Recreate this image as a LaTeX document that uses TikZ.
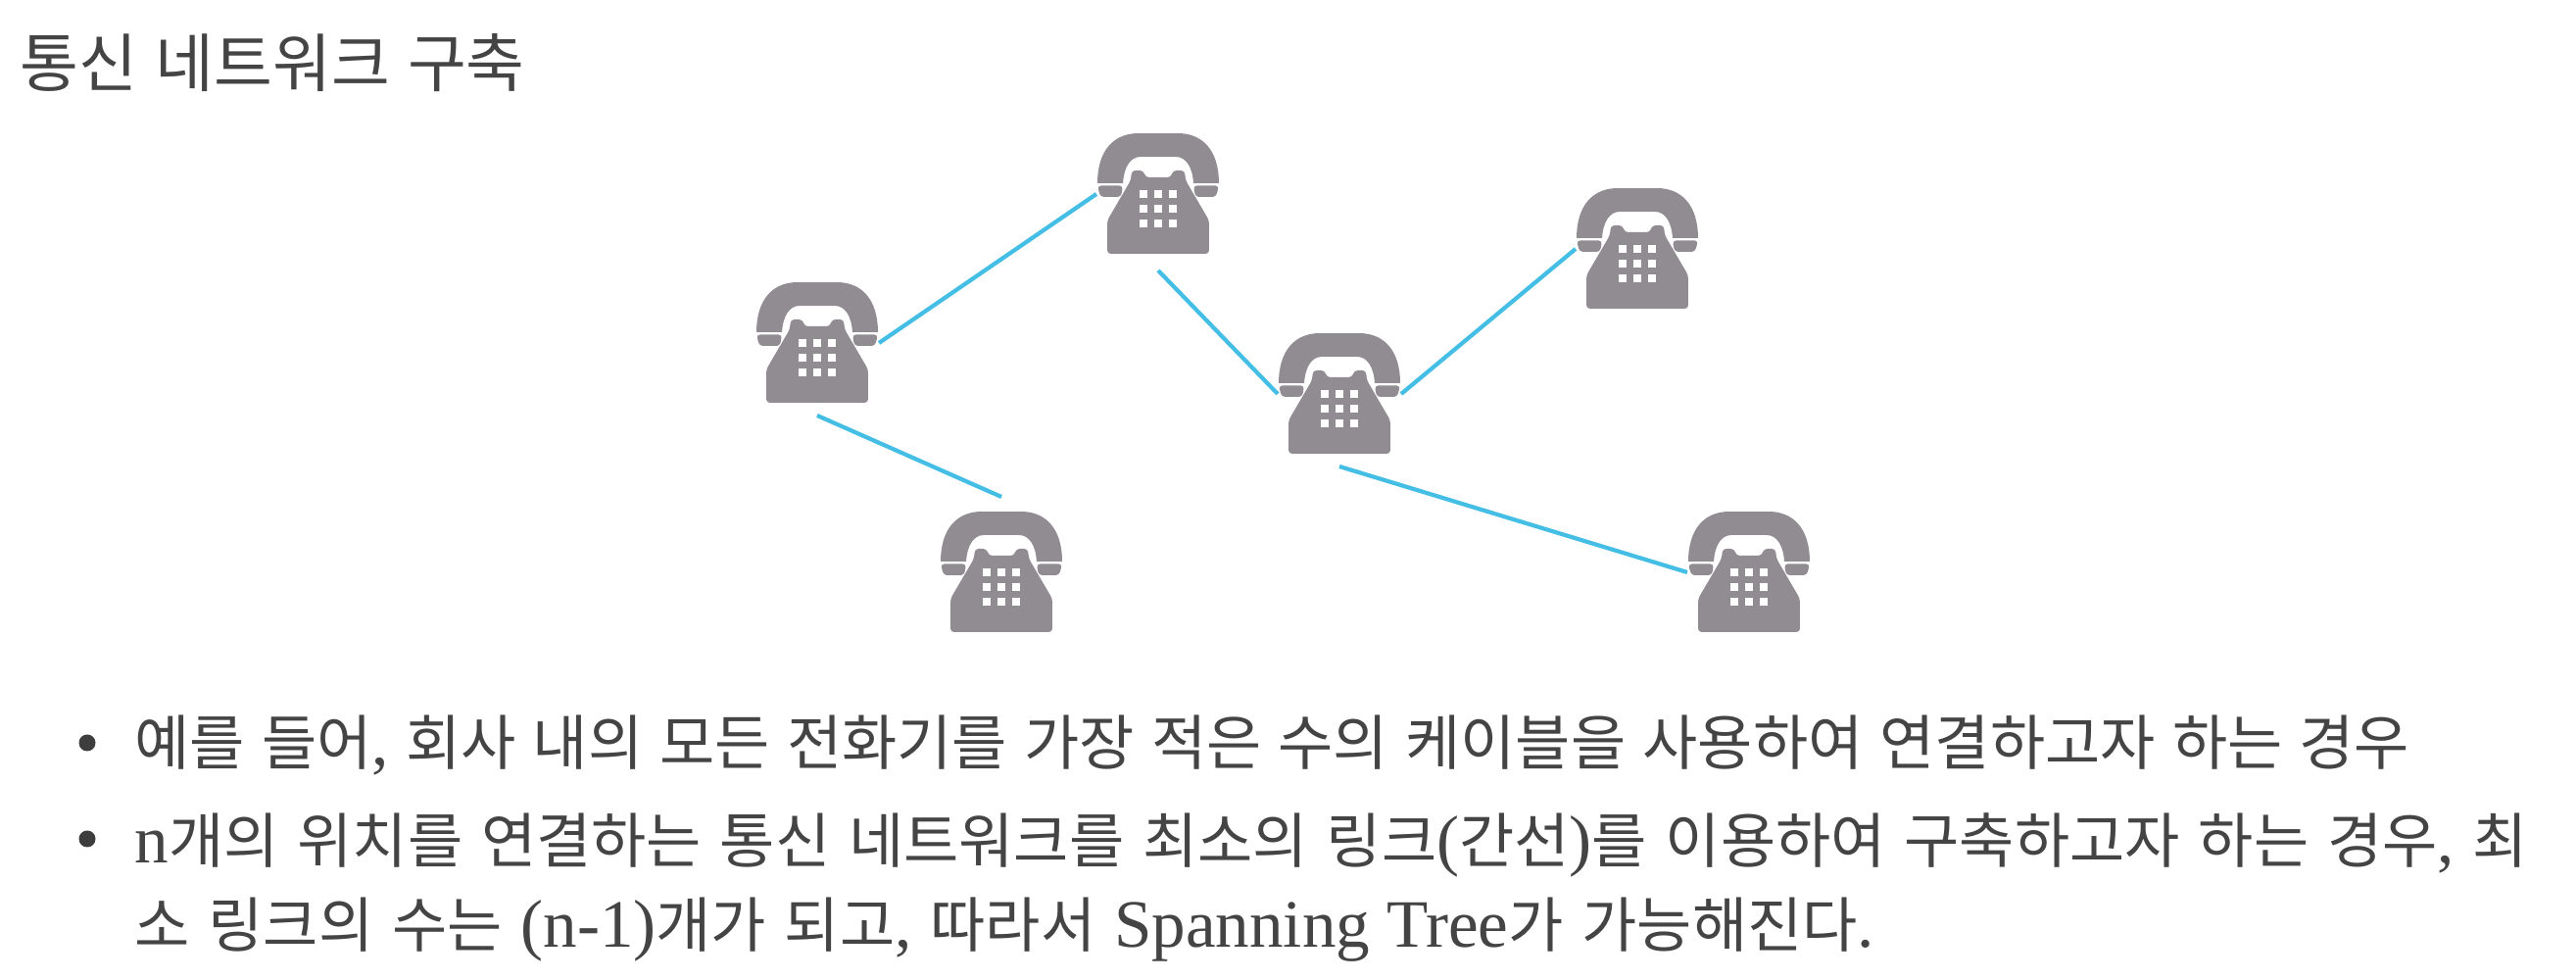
\documentclass[tikz,border=0pt]{standalone}
\usepackage{fontspec}
\setmainfont[WordSpace=1.25]{Noto Sans CJK KR}
\newfontfamily\widekorean[WordSpace=1.37]{Noto Sans CJK KR}
\newfontfamily\latinserif[Scale=1.13]{Liberation Serif}
\usetikzlibrary{positioning}
\definecolor{phonegray}{HTML}{918C91}
\definecolor{linkblue}{HTML}{45BEE6}
\definecolor{textgray}{HTML}{444444}
\newcommand{\phoneicon}{%
  \begin{scope}[shift={(path picture bounding box.center)},x=0.01cm,y=0.01cm]
    \fill[phonegray] (-62,11) .. controls (-62,45) and (-45,62) .. (-20,62) -- (20,62)
      .. controls (45,62) and (62,45) .. (62,11) -- (36,11)
      .. controls (35,28) and (28,38) .. (18,38) -- (-18,38)
      .. controls (-28,38) and (-35,28) .. (-36,11) -- cycle;
    \fill[phonegray,rounded corners=1] (-62,8.5) -- (-36,8.5) -- (-38,-3) -- (-59,-3) -- cycle;
    \fill[phonegray,rounded corners=1] (62,8.5) -- (36,8.5) -- (38,-3) -- (59,-3) -- cycle;
    \fill[phonegray,rounded corners=1] (-27,24) -- (-15,24) -- (-13,17) -- (13,17) -- (15,24)
      -- (27,24) -- (28,14) -- (52,-27) -- (52,-61) -- (-52,-61) -- (-52,-27) -- (-28,14) -- cycle;
    \foreach \keyx in {-15,0,15}
      \foreach \keyy in {0,-15,-30}
        \fill[white] (\keyx-4,\keyy-4) rectangle (\keyx+4,\keyy+4);
  \end{scope}}
\tikzset{
  phone/.style={minimum width=1.26cm,minimum height=1.26cm,inner sep=0pt,outer sep=0pt,path picture={\phoneicon}},
  link/.style={linkblue,line width=1.2pt},
  textline/.style={anchor=base west,inner sep=0pt,text=textgray,font=\fontsize{17.4}{20}\selectfont},
  wideline/.style={textline,font=\widekorean\fontsize{17.4}{20}\selectfont},
  bulletdot/.style={circle,fill=textgray!90!black,inner sep=0pt,minimum size=0.17cm}
}
\newcommand{\ls}[1]{{\latinserif #1}}

\begin{document}
\begin{tikzpicture}
  \useasboundingbox (0,0) rectangle (26.29,10);
  \fill[white] (0,0) rectangle (26.29,10);

  \node[textline,font=\fontsize{18.5}{20}\selectfont] (title) at (0.2,9.11) {통신 네트워크 구축};

  \node[phone] (left) at (8.34,6.5) {};
  \node[phone] (top) at (11.82,8.02) {};
  \node[phone] (right) at (16.71,7.46) {};
  \node[phone] (middle) at (13.67,5.98) {};
  \node[phone] (lower) at (10.22,4.16) {};
  \node[phone] (far) at (17.85,4.16) {};

  \draw[link] (left.east) -- (top.west);
  \draw[link] ([yshift=-0.15cm]top.south) -- (middle.west);
  \draw[link] (middle.east) -- (right.west);
  \draw[link] ([yshift=-0.11cm]left.south) -- ([yshift=0.14cm]lower.north);
  \draw[link] ([yshift=-0.11cm]middle.south) -- (far.west);

  \node[bulletdot] (dotone) at (0.89,2.42) {};
  \node[textline] (lineone) at (1.37,2.19) {예를 들어\ls{,} 회사 내의 모든 전화기를 가장 적은 수의 케이블을 사용하여 연결하고자 하는 경우};
  \node[bulletdot] (dottwo) at (0.89,1.44) {};
  \node[wideline] (linetwo) at (1.37,1.19) {\ls{n}개의 위치를 연결하는 통신 네트워크를 최소의 링크\ls{(}간선\ls{)}를 이용하여 구축하고자 하는 경우\ls{,} 최};
  \node[wideline] (linethree) at (1.37,0.33) {소 링크의 수는 \ls{(n-1)}개가 되고\ls{,} 따라서 \ls{Spanning Tree}가 가능해진다\ls{.}};
\end{tikzpicture}
\end{document}
